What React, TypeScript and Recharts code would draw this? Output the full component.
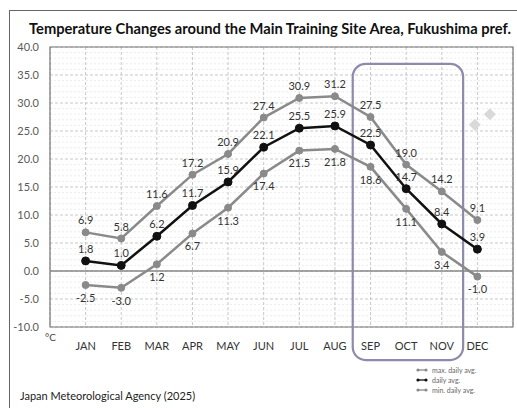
import React from "react";
import {
  ComposedChart,
  Line,
  Scatter,
  XAxis,
  YAxis,
  CartesianGrid,
  ReferenceArea,
  ReferenceLine,
  LabelList,
} from "recharts";

const months = ["JAN", "FEB", "MAR", "APR", "MAY", "JUN", "JUL", "AUG", "SEP", "OCT", "NOV", "DEC"];
const maxDaily = [6.9, 5.8, 11.6, 17.2, 20.9, 27.4, 30.9, 31.2, 27.5, 19.0, 14.2, 9.1];
const dailyAvg = [1.8, 1.0, 6.2, 11.7, 15.9, 22.1, 25.5, 25.9, 22.5, 14.7, 8.4, 3.9];
const minDaily = [-2.5, -3.0, 1.2, 6.7, 11.3, 17.4, 21.5, 21.8, 18.6, 11.1, 3.4, -1.0];
const yTicks = [-10, -5, 0, 5, 10, 15, 20, 25, 30, 35, 40];
const minorY = [-9, -8, -7, -6, -4, -3, -2, -1, 1, 2, 3, 4, 6, 7, 8, 9, 11, 12, 13, 14, 16, 17, 18, 19, 21, 22, 23, 24, 26, 27, 28, 29, 31, 32, 33, 34, 36, 37, 38, 39];
const ghostX = [11.93, 12.35];
const ghostY = [26.1, 28.0];

const data = months.map((m, i) => ({
  x: i + 1,
  month: m,
  max: maxDaily[i],
  avg: dailyAvg[i],
  min: minDaily[i],
}));
const ghost = ghostX.map((x, i) => ({ x, g: ghostY[i] }));

const FONT = "Lato, 'Open Sans', sans-serif";

const RoundedBox = (props: any) => {
  const { x, y, width, height } = props;
  return (
    <rect x={x} y={y} width={width} height={height} rx={13} ry={13} fill="none" stroke="#8e89ad" strokeWidth={2.2} />
  );
};

const Diamond = (props: any) => {
  const { cx, cy } = props;
  const r = 6;
  return <path d={`M${cx},${cy - r}L${cx + r},${cy}L${cx},${cy + r}L${cx - r},${cy}Z`} fill="#d9d9d9" />;
};

const legendItems = [
  { label: "max. daily avg.", color: "#8a8a8a" },
  { label: "daily avg.", color: "#111" },
  { label: "min. daily avg.", color: "#8a8a8a" },
];

const LegendBox = () => (
  <div style={{ position: "absolute", left: 416, top: 365, fontFamily: FONT, fontSize: 7, color: "#666" }}>
    {legendItems.map((it) => (
      <div key={it.label} style={{ display: "flex", alignItems: "center", height: 10 }}>
        <svg width={12} height={6} style={{ marginRight: 4 }}>
          <line x1={1.5} y1={3} x2={10.5} y2={3} stroke={it.color} strokeWidth={1.3} />
          <circle cx={2} cy={3} r={1.6} fill={it.color} />
          <circle cx={10} cy={3} r={1.6} fill={it.color} />
        </svg>
        <span>{it.label}</span>
      </div>
    ))}
  </div>
);

export default function App() {
  return (
    <div style={{ position: "absolute", left: 0, top: 0, width: 517, height: 408, background: "#fff", overflow: "hidden" }}>
      <div
        style={{
          position: "absolute",
          left: 9,
          top: 10,
          width: 520,
          height: 410,
          borderLeft: "1.5px solid #666",
          borderTop: "1.5px solid #666",
        }}
      />
      <div
        style={{
          position: "absolute",
          left: 29,
          top: 19,
          fontFamily: FONT,
          fontWeight: 700,
          fontSize: 14.7,
          color: "#111",
          whiteSpace: "nowrap",
        }}
      >
        Temperature Changes around the Main Training Site Area, Fukushima pref.
      </div>
      <div style={{ position: "absolute", left: 45, top: 331, fontFamily: FONT, fontSize: 10, color: "#444" }}>°C</div>
      <div style={{ position: "absolute", left: 20, top: 389, fontFamily: FONT, fontSize: 11, color: "#222" }}>
        Japan Meteorological Agency (2025)
      </div>
      <ComposedChart
        width={517}
        height={408}
        data={data}
        margin={{ top: 47, right: 4, left: 10, bottom: 51 }}
        style={{ position: "absolute", left: 0, top: 0 }}
      >
        <CartesianGrid horizontalValues={minorY} vertical={false} stroke="#ececec" strokeDasharray="2 2" />
        <CartesianGrid stroke="#c8c8c8" strokeDasharray="3 2" />
        <XAxis
          dataKey="x"
          type="number"
          domain={[0, 13]}
          ticks={[1, 2, 3, 4, 5, 6, 7, 8, 9, 10, 11, 12]}
          tickFormatter={(v: number) => months[v - 1] ?? ""}
          axisLine={false}
          tickLine={false}
          tickSize={0}
          tickMargin={15}
          height={30}
          tick={{ fontSize: 11, fill: "#333", fontFamily: FONT }}
          interval={0}
          allowDataOverflow
        />
        <YAxis
          type="number"
          domain={[-10, 40]}
          ticks={yTicks}
          tickFormatter={(v: number) => v.toFixed(1)}
          axisLine={false}
          tickLine={false}
          tickSize={0}
          tickMargin={11}
          width={40}
          tick={{ fontSize: 11, fill: "#5a5a5a", fontFamily: FONT }}
          interval={0}
        />
        <ReferenceArea x1={0} x2={13} y1={-10} y2={40} fill="none" stroke="#777" strokeWidth={1.2} ifOverflow="visible" />
        <ReferenceLine y={0} stroke="#888" strokeWidth={1.3} />
        <Line
          dataKey="max"
          stroke="#8a8a8a"
          strokeWidth={2.5}
          dot={{ r: 3.5, fill: "#8a8a8a", stroke: "#8a8a8a", strokeWidth: 1 }}
          isAnimationActive={false}
        >
          <LabelList dataKey="max" position="top" offset={8} formatter={(v: any) => Number(v).toFixed(1)} style={{ fontSize: 11, fill: "#333", fontFamily: FONT }} />
        </Line>
        <Line
          dataKey="avg"
          stroke="#111"
          strokeWidth={2.5}
          dot={{ r: 4, fill: "#111", stroke: "#111", strokeWidth: 1 }}
          isAnimationActive={false}
        >
          <LabelList dataKey="avg" position="top" offset={8} formatter={(v: any) => Number(v).toFixed(1)} style={{ fontSize: 11, fill: "#333", fontFamily: FONT }} />
        </Line>
        <Line
          dataKey="min"
          stroke="#8a8a8a"
          strokeWidth={2.5}
          dot={{ r: 3.5, fill: "#8a8a8a", stroke: "#8a8a8a", strokeWidth: 1 }}
          isAnimationActive={false}
        >
          <LabelList dataKey="min" position="bottom" offset={9} formatter={(v: any) => Number(v).toFixed(1)} style={{ fontSize: 11, fill: "#333", fontFamily: FONT }} />
        </Line>
        <Scatter data={ghost} dataKey="g" shape={<Diamond />} isAnimationActive={false} legendType="none" />
        <ReferenceArea x1={8.5} x2={11.6} y1={-15.9} y2={37} ifOverflow="visible" shape={<RoundedBox />} />
      </ComposedChart>
      <LegendBox />
    </div>
  );
}
